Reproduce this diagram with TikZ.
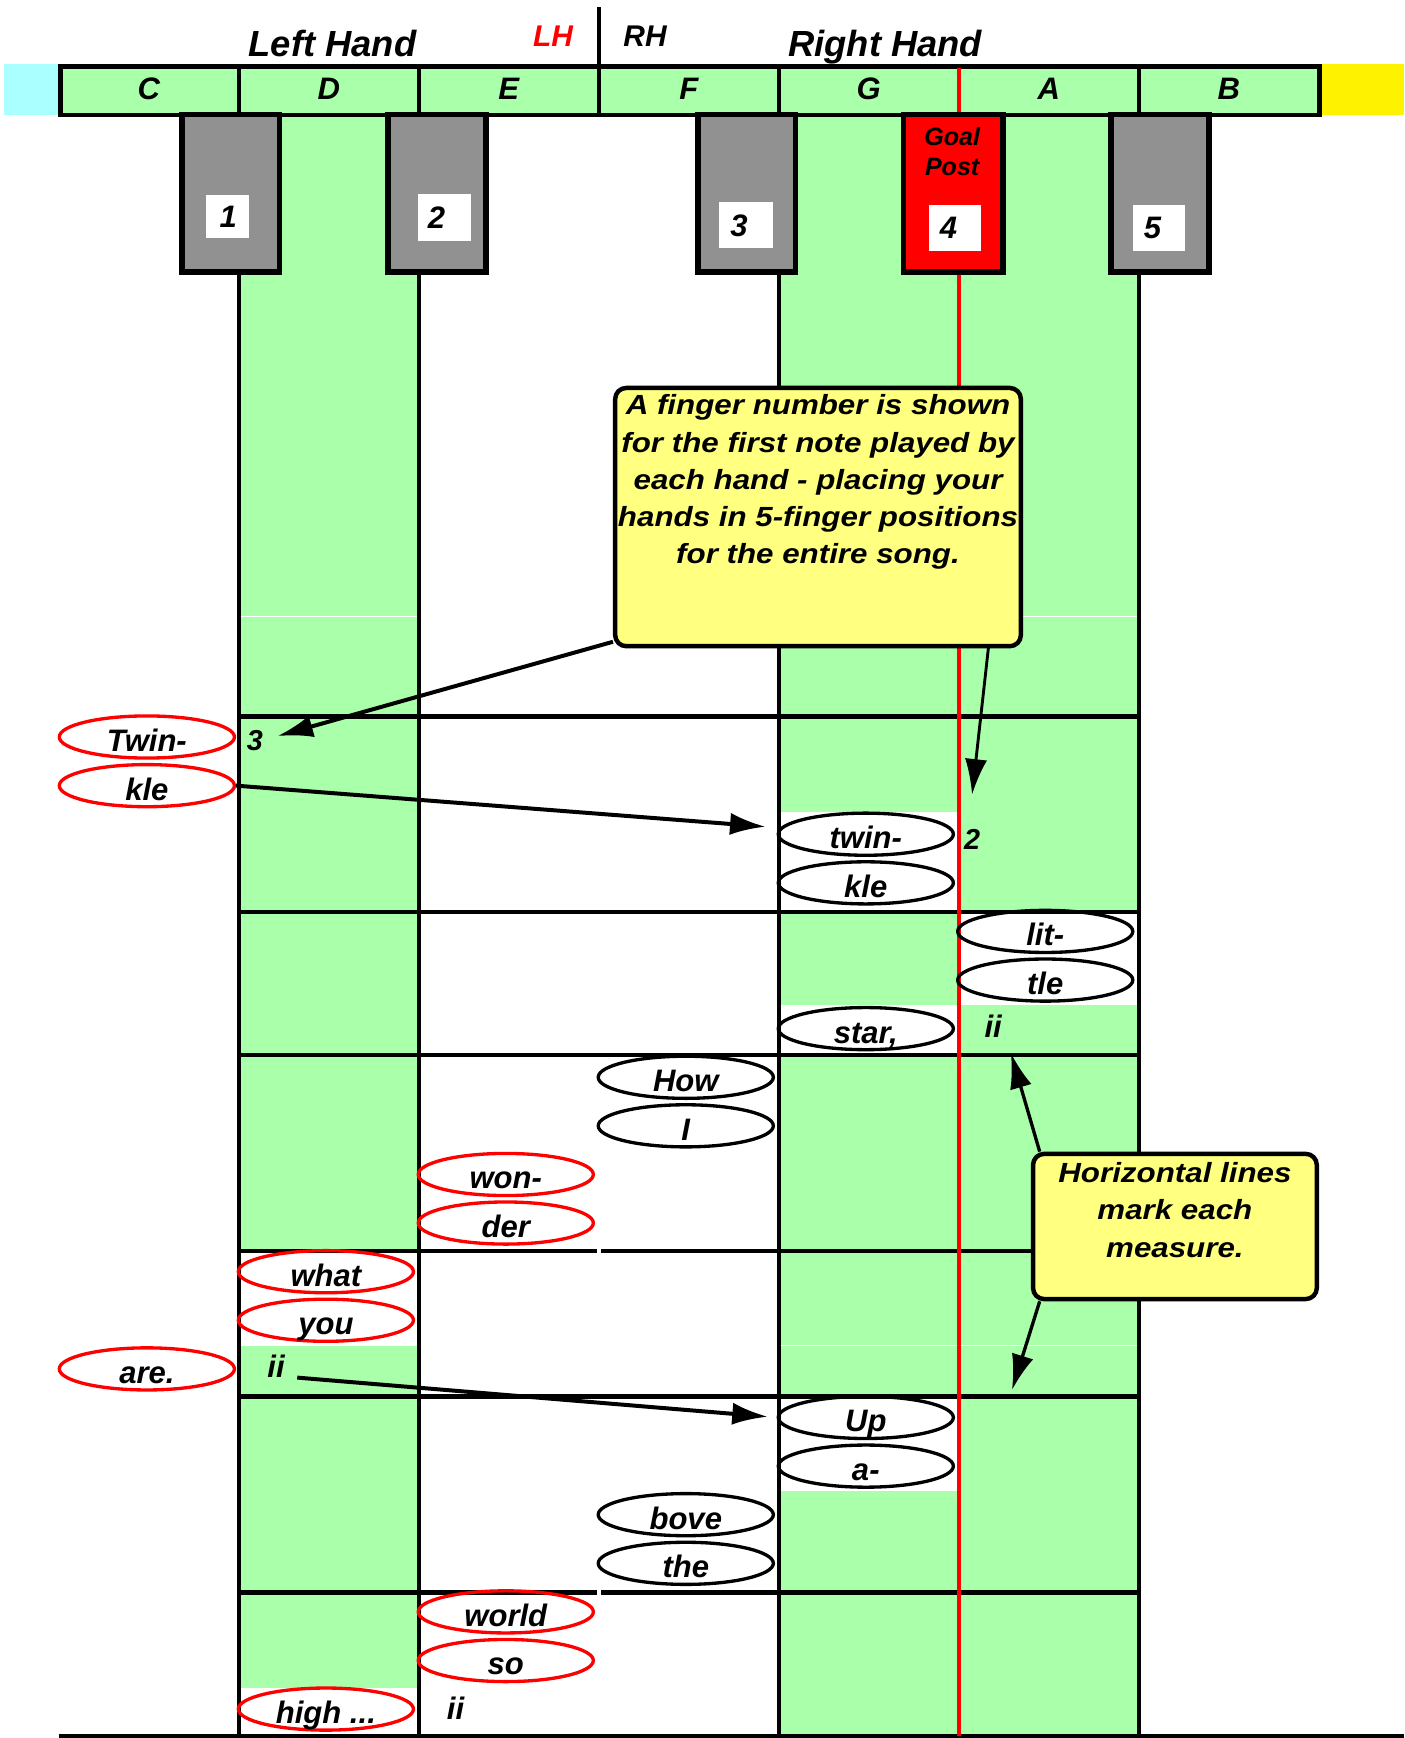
\documentclass[tikz,border=0pt]{standalone}
\usepackage{fontspec}
\setmainfont{Liberation Sans}
\newfontfamily\notefont[FakeStretch=1.13]{Liberation Sans}
\usepackage{xcolor}
\usepackage{tikz}
\usetikzlibrary{arrows.meta,shapes.geometric}
\definecolor{keygreen}{RGB}{170,255,170}
\definecolor{lowcyan}{RGB}{170,255,255}
\definecolor{keygray}{RGB}{145,145,145}
\definecolor{notefill}{RGB}{255,255,128}
\colorlet{lhred}{red}

\begin{document}
\begin{tikzpicture}[x=0.5pt,y=-0.5pt,>=Latex,
  barline/.style={line width=2pt},
  keylbl/.style={font=\fontsize{14}{16}\selectfont\bfseries\itshape,anchor=base,inner sep=2pt},
  hand/.style={font=\fontsize{16.4}{19}\selectfont\bfseries\itshape,anchor=base,inner sep=2pt},
  side/.style={font=\fontsize{13.5}{16}\selectfont\bfseries\itshape,anchor=base,inner sep=2pt},
  fing/.style={font=\fontsize{13}{15}\selectfont\bfseries\itshape,anchor=base,inner sep=2pt},
  lyric/.style={ellipse,line width=1.5pt,minimum width=79pt,minimum height=19pt,inner sep=0pt,
    text height=13pt,text depth=0pt,font=\fontsize{14}{16}\selectfont\bfseries\itshape},
  lh/.style={lyric,draw=lhred},
  rh/.style={lyric,draw=black},
  numbox/.style={fill=white,inner xsep=5pt,inner ysep=0pt,text width=14pt,align=left,
    minimum height=20.75pt,font=\fontsize{14}{16}\selectfont\bfseries\itshape},
  notebox/.style={draw,line width=2pt,fill=notefill,rounded corners=5pt,inner sep=0pt},
  notetext/.style={font=\notefont\fontsize{12.5}{16.8}\selectfont\bfseries\itshape,align=center,inner sep=0pt,anchor=north},
  pointer/.style={-{Latex[length=16pt,width=10pt]},line width=1.8pt}]
\useasboundingbox (0,0) rectangle (1267,1568);
% colour strips either side of the keyboard
\fill[lowcyan] (4,58) rectangle (53,104);
\fill[yellow] (1191,58) rectangle (1267,104);
% white keys used by the song
\fill[keygreen] (215.4,104) rectangle (377.8,1566);
\fill[keygreen] (702.6,104) rectangle (1027.4,1566);
% blank cells behind the note ovals
\fill[white] (702.6,732.5) rectangle (865,822.8);
\fill[white] (865,822.8) rectangle (1027.4,907);
\fill[white] (702.6,907) rectangle (865,952);
\fill[white] (215.4,1128.8) rectangle (377.8,1213.5);
\fill[white] (702.6,1260) rectangle (865,1345);
\fill[white] (215.4,1523) rectangle (377.8,1566);
\draw[white,line width=0.6pt] (214,556)--(1029,556) (214,1214)--(1029,1214);
% keyboard strip
\draw[line width=2.2pt,fill=keygreen] (54.7,60) rectangle (1190.8,103.7);
\draw[line width=1.6pt] (215.4,60)--(215.4,104) (377.8,60)--(377.8,104) (540.2,60)--(540.2,104) (702.6,60)--(702.6,104) (1027.4,60)--(1027.4,104);
\draw[line width=1.6pt] (540.2,6.6)--(540.2,60);
% key edges and measure lines
\draw[barline] (215.4,104)--(215.4,1566) (377.8,104)--(377.8,1566) (702.6,104)--(702.6,1566) (1027.4,104)--(1027.4,1566);
\draw[barline] (214.4,646.4)--(1028.4,646.4) (214.4,822.8)--(1028.4,822.8) (214.4,952)--(1028.4,952) (214.4,1260)--(1028.4,1260);
\draw[barline] (214.4,1128.8)--(538.5,1128.8) (542.5,1128.8)--(1028.4,1128.8) (214.4,1436.8)--(538.5,1436.8) (542.5,1436.8)--(1028.4,1436.8);
\draw[barline] (53,1566.5)--(1267,1566.5);
\draw[red,line width=1.8pt] (865,61)--(865,1566);
% black keys, the goal post in red
\draw[line width=2.5pt,fill=keygray] (164.1,103.5) rectangle (252.1,245.5);
\draw[line width=2.5pt,fill=keygray] (350,103.5) rectangle (438.5,245.5);
\draw[line width=2.5pt,fill=keygray] (629.5,103.5) rectangle (717.5,245.5);
\draw[line width=2.5pt,fill=red] (815,103.5) rectangle (905,245.5);
\draw[line width=2.5pt,fill=keygray] (1002.5,103.5) rectangle (1090.5,245.5);
\node[numbox,inner xsep=6pt,text width=7.35pt,minimum height=19.25pt] (num1) at (205.4,195.3) {1};
\node[numbox,inner xsep=4.25pt,text width=15.25pt,minimum height=21pt] (num2) at (401.3,196) {2};
\node[numbox] (num3) at (673,203.3) {3};
\node[numbox,text width=13.5pt] (num4) at (861.5,205.5) {4};
\node[numbox,text width=13.5pt] (num5) at (1045.5,205.5) {5};
\node[font=\fontsize{11.3}{13.5}\selectfont\bfseries\itshape,align=center,inner sep=0pt] (goal) at (859,137) {Goal\\Post};
% note names
\node[keylbl] (keyC) at (134.2,89.5) {C};
\node[keylbl] (keyD) at (296.6,89.5) {D};
\node[keylbl] (keyE) at (459,89.5) {E};
\node[keylbl] (keyF) at (621.4,89.5) {F};
\node[keylbl] (keyG) at (783.8,89.5) {G};
\node[keylbl] (keyA) at (946.2,89.5) {A};
\node[keylbl] (keyB) at (1108.6,89.5) {B};
\node[hand] (lefthand) at (300,51) {Left Hand};
\node[side,text=lhred] (lhtag) at (499,42) {LH};
\node[side] (rhtag) at (582,42) {RH};
\node[hand] (righthand) at (798.6,51) {Right Hand};
% the two notes
\node[notebox,minimum width=183pt,minimum height=116.5pt] (note1) at (738,466.5) {};
\node[notetext] (note1txt) at ([yshift=-3.9pt]note1.north) {A finger number is shown\\for the first note played by\\each hand - placing your\\hands in 5-finger positions\\for the entire song.};
\node[notebox,minimum width=128pt,minimum height=65.5pt] (note2) at (1060,1106.5) {};
\node[notetext] (note2txt) at ([yshift=-4.7pt]note2.north) {Horizontal lines\\mark each\\measure.};
% lyrics, red = left hand, black = right hand
\node[lh] (twinL) at (132.5,664.9) {Twin-};
\node[lh] (kleL) at (132.5,708.8) {kle};
\node[rh] (twinR) at (781.1,752.6) {twin-};
\node[rh] (kleR) at (781.1,796.5) {kle};
\node[rh] (lit) at (943,840.3) {lit-};
\node[rh] (tle) at (943,884.2) {tle};
\node[rh] (star) at (781.1,928) {star,};
\node[rh] (how) at (618.7,971.9) {How};
\node[rh] (eye) at (618.7,1015.7) {I};
\node[lh] (won) at (456.3,1059.6) {won-};
\node[lh] (der) at (456.3,1103.4) {der};
\node[lh] (what) at (294,1147.3) {what};
\node[lh] (you) at (294,1191.1) {you};
\node[lh] (are) at (132.5,1235) {are.};
\node[rh] (up) at (781.1,1278.8) {Up};
\node[rh] (aa) at (781.1,1322.7) {a-};
\node[rh] (bove) at (618.7,1366.5) {bove};
\node[rh] (the) at (618.7,1410.4) {the};
\node[lh] (world) at (456.3,1454.2) {world};
\node[lh] (so) at (456.3,1498.1) {so};
\node[lh] (high) at (294,1541.9) {high ...};
% finger numbers and repeats
\node[fing] (fing3) at (230,677) {3};
\node[fing] (fing2) at (877,766) {2};
\node[keylbl] (ii1) at (896,936) {ii};
\node[keylbl] (ii2) at (249,1243) {ii};
\node[keylbl] (ii3) at (411,1551) {ii};
\coordinate (m2line) at (912,950);
\coordinate (m4line) at (913,1254);
\draw[pointer] ([yshift=3pt]note1.south west) -- ([xshift=4.4pt,yshift=2pt]fing3.east);
\draw[pointer,line width=1.3pt] ([xshift=-15.5pt,yshift=1.5pt]note1.south east) -- ([yshift=13.3pt]fing2.north);
\draw[pointer,shorten >=5pt] (kleL.east) -- ([yshift=3pt]twinR.west);
\draw[pointer,line width=1.5pt] ([xshift=4pt]note2.north west) -- (m2line);
\draw[pointer,line width=1.5pt] ([xshift=4pt]note2.south west) -- (m4line);
\draw[pointer,shorten >=4pt] ([xshift=3.5pt,yshift=-5pt]ii2.east) -- (up.west);
\end{tikzpicture}
\end{document}
